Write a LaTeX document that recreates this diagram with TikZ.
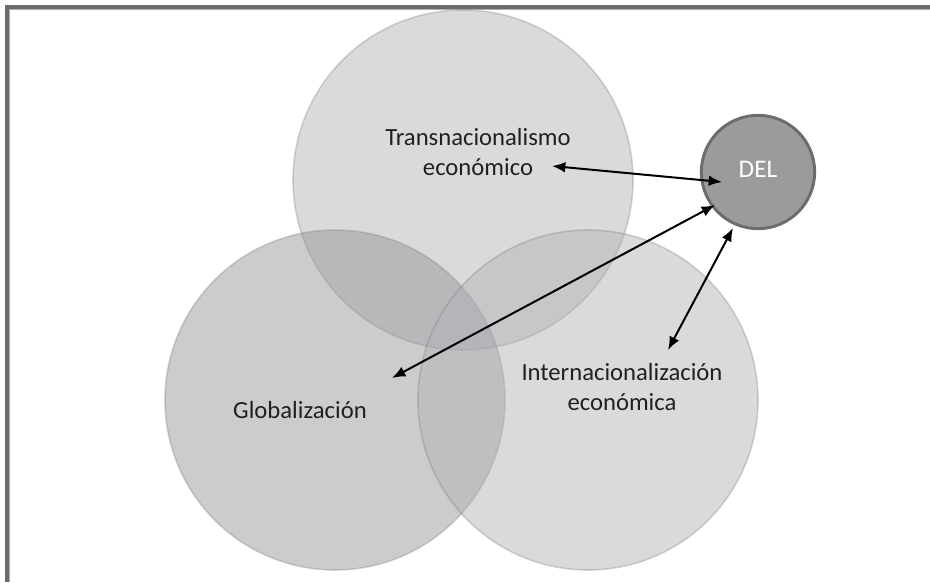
\documentclass[tikz,border=0pt]{standalone}
\usepackage{fontspec}
\setmainfont{Carlito}
\usetikzlibrary{arrows.meta}
\definecolor{FrameGray}{RGB}{108,108,110}
\definecolor{FrameLight}{RGB}{175,175,177}
\definecolor{DiscDark}{RGB}{148,148,152}
\definecolor{DiscLight}{RGB}{178,178,182}
\definecolor{DiscRim}{RGB}{120,120,125}
\definecolor{DelFill}{RGB}{155,155,158}
\definecolor{DelRim}{RGB}{108,108,110}
\definecolor{Ink}{RGB}{35,31,32}
\tikzset{
  >={Latex[length=10pt,width=8pt]},
  disc/.style={circle,fill=#1,fill opacity=.48,draw=DiscRim,draw opacity=.3,line width=1.2pt,minimum size=255pt,inner sep=0pt},
  delnode/.style={circle,fill=DelFill,draw=DelRim,line width=2.2pt,minimum size=85pt,inner sep=0pt,text=white,font=\fontsize{19}{22.5}\selectfont},
  label/.style={align=center,text=Ink,font=\fontsize{18.5}{22.5}\selectfont},
  link/.style={<->,line width=1.5pt,draw=black},
  frame/.style={draw=FrameGray,line width=3pt}
}
\begin{document}
\begin{tikzpicture}[x=.75pt,y=-.75pt]
  \useasboundingbox (0,0) rectangle (930,582);
  % frame
  \draw[frame] (7,582) -- (7,7) -- (930,7);
  \draw[FrameLight,line width=.75pt] (9.6,582) -- (9.6,9.6) -- (930,9.6);
  % circles
  \node[disc=DiscLight] (trans) at (463,180) {};
  \node[disc=DiscDark] (glob) at (335,400) {};
  \node[disc=DiscLight] (inter) at (588,400) {};
  \node[label] (transtext) at (478,152) {Transnacionalismo\\económico};
  \node[label] (globtext) at (300,410) {Globalización};
  \node[label] (intertext) at (622,387) {Internacionalización\\económica};
  \node[delnode] (del) at (758,172) {\raisebox{4pt}{DEL}};
  % arrow ends
  \coordinate (trans-end) at (552,166);
  \coordinate (glob-end) at (392,378);
  \coordinate (inter-end) at (668,350);
  \coordinate (del-a) at (722,182);
  \coordinate (del-b) at (715,205);
  \coordinate (del-c) at (733,228);
    \draw[link] (trans-end) -- (del-a);
    \draw[link] (glob-end) -- (del-b);
    \draw[link] (inter-end) -- (del-c);
\end{tikzpicture}
\end{document}
